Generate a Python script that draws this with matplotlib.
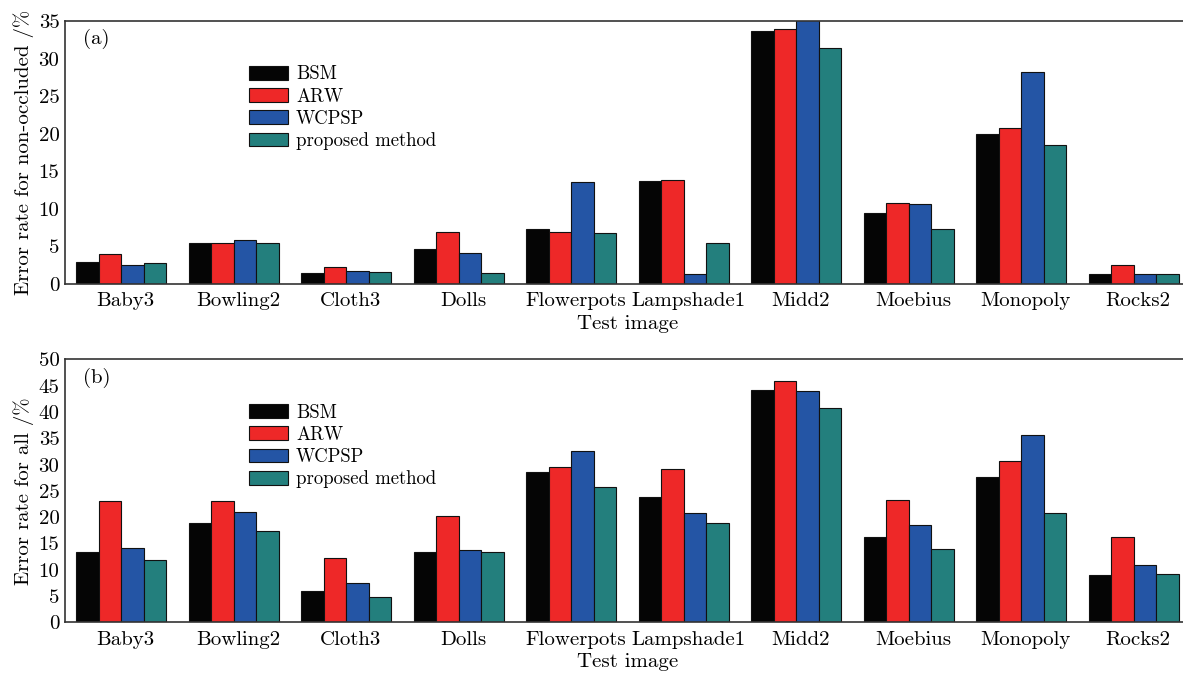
import numpy as np
import matplotlib
matplotlib.use("Agg")
import matplotlib.pyplot as plt

# Test images and methods
images = ["Baby3", "Bowling2", "Cloth3", "Dolls", "Flowerpots",
          "Lampshade1", "Midd2", "Moebius", "Monopoly", "Rocks2"]
methods = ["BSM", "ARW", "WCPSP", "proposed method"]

# Error rate for non-occluded regions (%)
nonocc_bsm = [3.0, 5.4, 1.5, 4.7, 7.3, 13.7, 33.7, 9.5, 20.0, 1.4]
nonocc_arw = [4.0, 5.4, 2.3, 6.9, 6.9, 13.9, 33.9, 10.8, 20.7, 2.6]
nonocc_wcpsp = [2.6, 5.9, 1.7, 4.1, 13.6, 1.4, 36.0, 10.6, 28.2, 1.4]
nonocc_ours = [2.8, 5.4, 1.55, 1.5, 6.8, 5.5, 31.4, 7.3, 18.5, 1.3]

# Error rate for all regions (%)
all_bsm = [13.3, 18.8, 5.9, 13.3, 28.5, 23.8, 44.2, 16.3, 27.6, 9.1]
all_arw = [23.0, 23.0, 12.3, 20.3, 29.5, 29.2, 45.9, 23.2, 30.6, 16.3]
all_wcpsp = [14.1, 20.9, 7.5, 13.8, 32.6, 20.7, 44.0, 18.5, 35.6, 11.0]
all_ours = [11.85, 17.3, 4.9, 13.3, 25.7, 18.8, 40.7, 13.9, 20.7, 9.25]

colors = ["#050505", "#ee2828", "#2455a5", "#237f7d"]

plt.rcParams["font.family"] = ["cmr10", "DejaVu Serif"]
plt.rcParams["axes.unicode_minus"] = False
plt.rcParams["mathtext.fontset"] = "cm"

fig = plt.figure(figsize=(11.83, 6.78), dpi=100)
ax_a = fig.add_axes([0.0549, 0.581, 0.951, 0.388])
ax_b = fig.add_axes([0.0549, 0.082, 0.951, 0.388])


def draw_panel(ax, series, ymax, step, ylabel, tag):
    x = np.arange(len(images))
    width = 0.2
    for i, (vals, name) in enumerate(zip(series, methods)):
        ax.bar(x + (i - 1.5) * width, vals, width, color=colors[i],
               edgecolor="#111111", linewidth=0.8, label=name)
    ax.set_xlim(-0.5, len(images) - 0.5)
    ax.set_ylim(0, ymax)
    ax.set_yticks(np.arange(0, ymax + 1, step))
    ax.set_xticks(x + 0.04)
    ax.set_xticklabels(images)
    ax.tick_params(length=0, labelsize=15, pad=6)
    ax.tick_params(axis="y", pad=4)
    for s in ax.spines.values():
        s.set_color("#333333")
        s.set_linewidth(1.2)
    ax.set_xlabel("Test image", fontsize=15, labelpad=3)
    ax.set_ylabel(ylabel, fontsize=15, labelpad=3)
    ax.text(0.016, 0.93, tag, transform=ax.transAxes, fontsize=15,
            va="center", ha="left")
    ax.legend(loc="upper left", bbox_to_anchor=(0.157, 0.86), frameon=False,
              fontsize=13.5, handlelength=2.1, handleheight=0.75,
              handletextpad=0.4, labelspacing=0.23, borderaxespad=0)


draw_panel(ax_a, [nonocc_bsm, nonocc_arw, nonocc_wcpsp, nonocc_ours],
           35, 5, "Error rate for non-occluded /%", "(a)")
draw_panel(ax_b, [all_bsm, all_arw, all_wcpsp, all_ours],
           50, 5, "Error rate for all /%", "(b)")

fig.savefig("out.png", dpi=100)
